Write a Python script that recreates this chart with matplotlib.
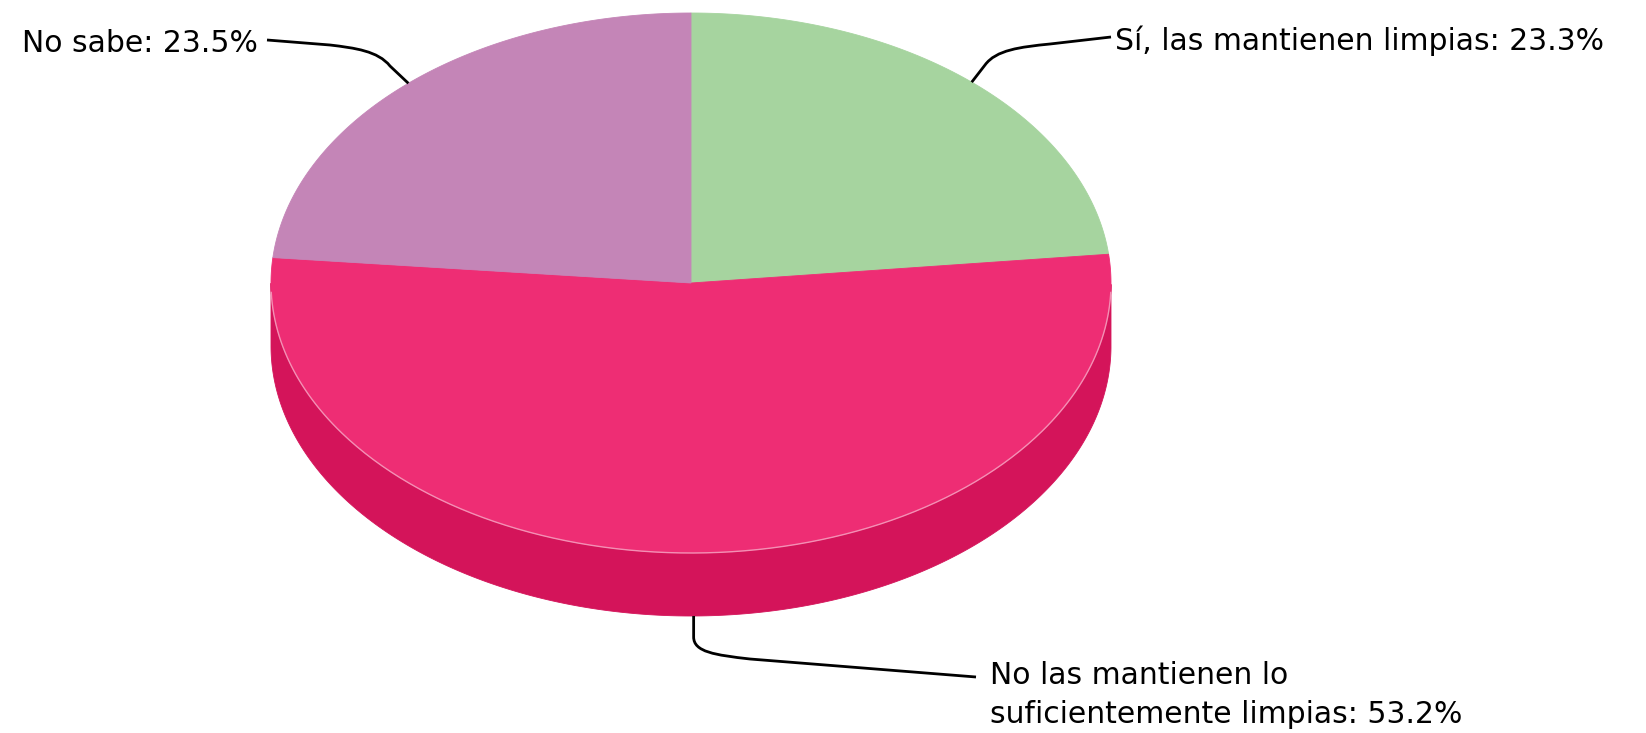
import numpy as np
import matplotlib.pyplot as plt
from matplotlib.patches import Polygon, PathPatch
from matplotlib.path import Path

labels = ["Sí, las mantienen limpias", "No las mantienen lo\nsuficientemente limpias", "No sabe"]
values = [23.3, 53.2, 23.5]
top_colors = ["#A6D49F", "#EE2D74", "#C485B7"]
side_colors = ["#86B87F", "#D4145A", "#A8659B"]

W, H = 1646, 733
cx, cy, rx, ry, depth = 691, 283, 420, 270, 63

fig = plt.figure(figsize=(W / 100, H / 100), dpi=100)
ax = fig.add_axes([0, 0, 1, 1])
ax.set_xlim(0, W)
ax.set_ylim(H, 0)
ax.axis("off")


def pt(t, dy=0.0):
    t = np.radians(t)
    return np.column_stack([cx + rx * np.cos(t), cy - ry * np.sin(t) + dy])


# slice angles, starting at 12 o'clock, clockwise
total = sum(values)
angles = []
start = 90.0
for v in values:
    end = start - v / total * 360
    angles.append((start, end))
    start = end

# side walls (only the front half is visible)
for (a0, a1), c in zip(angles, side_colors):
    t = np.linspace(a1, a0, 600)
    vis = np.sin(np.radians(t)) <= 0
    idx = np.where(vis)[0]
    if len(idx) < 2:
        continue
    runs = np.split(idx, np.where(np.diff(idx) > 1)[0] + 1)
    for r in runs:
        if len(r) < 2:
            continue
        tt = t[r]
        poly = np.vstack([pt(tt), pt(tt[::-1], depth)])
        ax.add_patch(Polygon(poly, closed=True, fc=c, ec=c, lw=0.6, zorder=1))

# top faces
for (a0, a1), c in zip(angles, top_colors):
    t = np.linspace(a0, a1, 400)
    poly = np.vstack([[cx, cy], pt(t)])
    ax.add_patch(Polygon(poly, closed=True, fc=c, ec=c, lw=0.6, zorder=2))

# light rim on the front edge of the top face
rim = pt(np.linspace(-178, -2, 300))
ax.plot(rim[:, 0], rim[:, 1], color="#F6A9C5", lw=1.0, alpha=0.8, zorder=3)

# leader lines and labels
mids = [(a0 + a1) / 2 for a0, a1 in angles]
font = dict(fontsize=21.5, family="DejaVu Sans", color="black")
codes = [Path.MOVETO, Path.LINETO, Path.CURVE4, Path.CURVE4, Path.CURVE4, Path.LINETO]

# Sí
ax0, ay0 = pt(mids[0])[0]
verts = [(ax0, ay0), (985, 65), (996, 50), (1020, 47), (1050, 44), (1111, 37)]
ax.add_patch(PathPatch(Path(verts, codes), fc="none", ec="black", lw=2, zorder=4))
ax.text(1115, 41, f"{labels[0]}: {values[0]}%", ha="left", va="center", **font)

# No las mantienen
ax1, ay1 = pt(mids[1], depth)[0]
verts = [(ax1, ay1), (ax1, 637), (ax1, 652), (715, 655), (750, 659), (976, 677)]
ax.add_patch(PathPatch(Path(verts, codes), fc="none", ec="black", lw=2, zorder=4))
ax.text(990, 695, f"{labels[1]}: {values[1]}%", ha="left", va="center",
        linespacing=1.4, **font)

# No sabe
ax2, ay2 = pt(mids[2])[0]
verts = [(ax2, ay2), (390, 66), (378, 51), (355, 48), (330, 45), (267, 40)]
ax.add_patch(PathPatch(Path(verts, codes), fc="none", ec="black", lw=2, zorder=4))
ax.text(22, 44, f"{labels[2]}: {values[2]}%", ha="left", va="center", **font)

fig.savefig("out.png", dpi=100, facecolor="white")
